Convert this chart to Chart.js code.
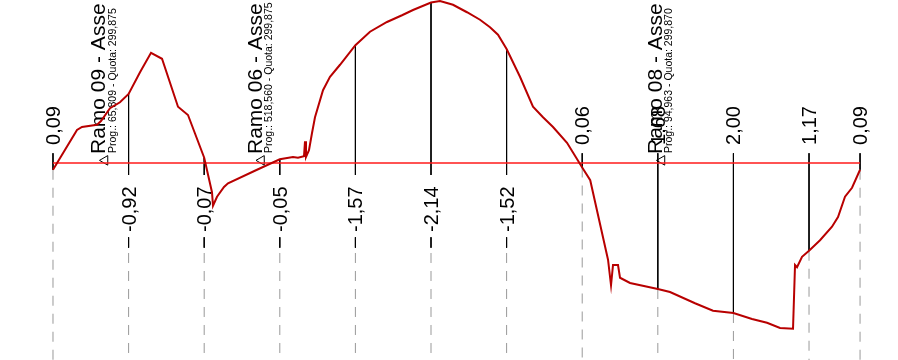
<!DOCTYPE html>
<html>
<head>
<meta charset="utf-8">
<script src="https://cdn.jsdelivr.net/npm/chart.js@4.4.1/dist/chart.umd.min.js"></script>
<style>
  html, body { margin: 0; padding: 0; background: #fff; }
  canvas { display: block; }
</style>
</head>
<body>
<canvas id="profilo" width="898" height="360"></canvas>
<script>
// stations (progressive, m) and their labels (cut/fill height, m)
const stationDist = [0, 20, 40, 60, 80, 100, 120, 140, 160, 180, 200, 213.5];
const stationVal = [0.09, -0.92, -0.07, -0.05, -1.57, -2.14, -1.52, 0.06, 1.68, 2.00, 1.17, 0.09];

// ground profile, relative to the red reference line
const profDist = [0, 6.35, 7.67, 11.64, 12.7, 15.08, 17.72, 20, 23.02, 25.93, 28.84, 33.07, 35.71, 40,
  42.06, 42.33, 43.39, 45.24, 46.3, 53.97, 60, 63.49, 64.81, 66.4, 66.67, 66.93, 67.72, 68.52, 69.31,
  71.43, 73.28, 75.93, 80, 83.86, 88.36, 92.33, 95.24, 100, 102.38, 105.82, 109.52, 112.96, 115.61,
  117.72, 120, 123.54, 126.98, 129.63, 132.28, 135.98, 140, 142.12, 146.83, 147.62, 148.15, 149.47,
  150, 152.65, 160, 163.23, 169.84, 174.6, 180, 184.92, 188.89, 192.33, 195.77, 196.3, 196.83, 198.15,
  200, 202.91, 206.08, 207.67, 209.52, 211.38, 213.5];
const profElev = [-0.09, 0.44, 0.48, 0.51, 0.56, 0.73, 0.81, 0.92, 1.21, 1.47, 1.39, 0.75, 0.64, 0.07,
  -0.39, -0.57, -0.45, -0.32, -0.27, -0.09, 0.05, 0.08, 0.07, 0.09, 0.29, 0.08, 0.17, 0.40, 0.61,
  0.97, 1.15, 1.31, 1.57, 1.75, 1.88, 1.97, 2.04, 2.14, 2.16, 2.11, 2.01, 1.91, 1.81,
  1.71, 1.52, 1.15, 0.75, 0.61, 0.48, 0.27, -0.06, -0.23, -1.29, -1.63, -1.36, -1.36,
  -1.53, -1.60, -1.68, -1.72, -1.87, -1.97, -2.00, -2.08, -2.13, -2.20, -2.21, -1.36, -1.39, -1.25,
  -1.17, -1.03, -0.85, -0.72, -0.45, -0.33, -0.09];

// crossing axes
const ramoDist = [13.76, 55.16, 161.1];
const ramoName = ['Ramo 09 - Asse', 'Ramo 06 - Asse', 'Ramo 08 - Asse'];
const ramoProg = ['65,809', '518,560', '94,963'];
const ramoQuota = ['299,875', '299,875', '299,870'];

// layout (in metres of the vertical scale)
const tickTop = 0.13;      // top of the leader above the line
const gapTop = -0.16;      // where a leader stops above a lower label
const lowTickA = -0.99, lowTickB = -1.13, lowDash = -1.20;
const yMin = -2.6267, yMax = 2.1733;
const xMin = -14.02, xMax = 223.54;

const solidPts = [];
const dashPts = [];
stationDist.forEach(function(d, i){
  const v = stationVal[i];
  if (v < 0) {
    solidPts.push({x: d, y: -v}, {x: d, y: gapTop}, {x: d, y: null});
    solidPts.push({x: d, y: lowTickA}, {x: d, y: lowTickB}, {x: d, y: null});
    dashPts.push({x: d, y: lowDash}, {x: d, y: yMin}, {x: d, y: null});
  } else {
    solidPts.push({x: d, y: tickTop}, {x: d, y: -v}, {x: d, y: null});
    dashPts.push({x: d, y: -v}, {x: d, y: yMin}, {x: d, y: null});
  }
});

const profile = profDist.map(function(d, i){ return {x: d, y: profElev[i]}; });
const baseLine = [{x: stationDist[0], y: 0}, {x: stationDist[stationDist.length - 1], y: 0}];
const ramoPts = ramoDist.map(function(d){ return {x: d, y: 0.035}; });

function fmt(v){ return v.toFixed(2).replace('.', ','); }

const labelsPlugin = {
  id: 'labels',
  beforeDatasetsDraw(chart){
    const ctx = chart.ctx;
    const xs = chart.scales.x, ys = chart.scales.y;
    ctx.save();
    ctx.fillStyle = '#000';
    ctx.textBaseline = 'alphabetic';
    ctx.textAlign = 'left';
    // station values
    ctx.font = '20px "Liberation Sans", Arial, sans-serif';
    stationDist.forEach(function(d, i){
      const v = stationVal[i];
      const px = xs.getPixelForValue(d);
      const py = ys.getPixelForValue(v < 0 ? -0.92 : 0.24);
      ctx.save();
      ctx.translate(px + 7, py);
      ctx.rotate(-Math.PI / 2);
      ctx.fillText(fmt(v), 0, 0);
      ctx.restore();
    });
    // axis names
    ramoDist.forEach(function(d, i){
      const px = xs.getPixelForValue(d);
      const py = ys.getPixelForValue(0.12);
      ctx.save();
      ctx.translate(px, py);
      ctx.rotate(-Math.PI / 2);
      ctx.font = '21px "Liberation Sans", Arial, sans-serif';
      ctx.fillText(ramoName[i], 0, 0);
      ctx.font = '10.5px "Liberation Sans", Arial, sans-serif';
      ctx.fillText('Prog.: ' + ramoProg[i] + ' - Quota: ' + ramoQuota[i], 1, 10.5);
      ctx.restore();
    });
    ctx.restore();
  }
};

new Chart(document.getElementById('profilo'), {
  type: 'line',
  data: {
    datasets: [
      {
        data: profile,
        borderColor: '#b80000',
        borderWidth: 2,
        pointRadius: 0,
        tension: 0,
        order: 0
      },
      {
        data: baseLine,
        borderColor: '#ff1a1a',
        borderWidth: 1.5,
        pointRadius: 0,
        order: 1
      },
      {
        data: solidPts,
        borderColor: '#000',
        borderWidth: 1,
        pointRadius: 0,
        spanGaps: false,
        order: 2
      },
      {
        data: dashPts,
        borderColor: '#999',
        borderWidth: 1,
        borderDash: [10, 8],
        pointRadius: 0,
        spanGaps: false,
        order: 3
      },
      {
        data: ramoPts,
        showLine: false,
        pointStyle: 'triangle',
        pointRotation: -90,
        pointRadius: 5.5,
        pointBorderColor: '#000',
        pointBorderWidth: 1,
        pointBackgroundColor: 'rgba(255,255,255,0)',
        order: 4
      }
    ]
  },
  options: {
    responsive: false,
    animation: false,
    events: [],
    layout: { padding: 0, autoPadding: false },
    scales: {
      x: { type: 'linear', min: xMin, max: xMax, display: false },
      y: { type: 'linear', min: yMin, max: yMax, display: false }
    },
    plugins: {
      legend: { display: false },
      tooltip: { enabled: false }
    }
  },
  plugins: [labelsPlugin]
});
</script>
</body>
</html>
